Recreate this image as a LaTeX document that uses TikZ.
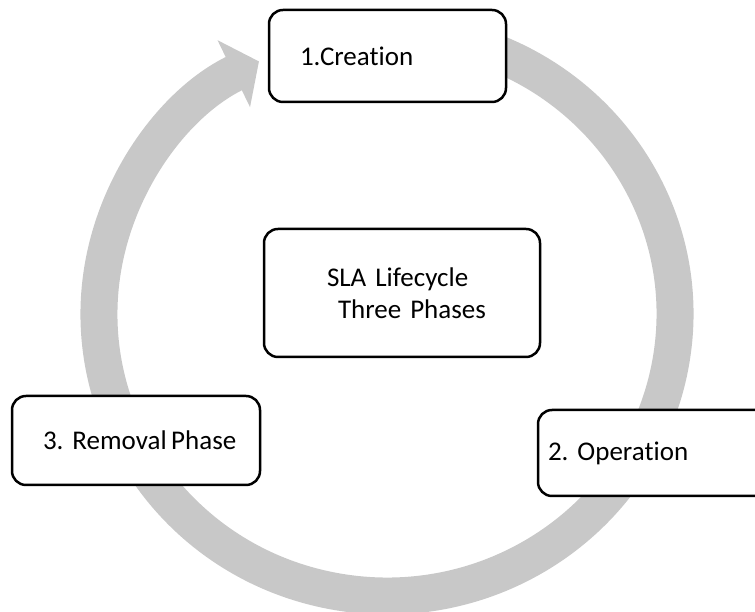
\documentclass[tikz,border=0pt]{standalone}
\usepackage{fontspec}
\setmainfont{Carlito}[Ligatures=NoCommon, WordSpace=0.6]
\usepackage{xcolor}
\usepackage{tikz}
\usetikzlibrary{arrows.meta, positioning}
\definecolor{cyclegray}{RGB}{200,200,200}
\frenchspacing

\begin{document}
\begin{tikzpicture}[x=1pt, y=1pt,
    % Styles
    phase/.style={
        rectangle,
        rounded corners=14pt,
        draw=black,
        fill=white,
        line width=2.5pt,
        align=left,
        font=\fontsize{27pt}{32pt}\selectfont
    },
    cyclearrow/.style={
        -{Triangle[length=28pt, width=73pt]},
        line width=37pt,
        draw=cyclegray
    }
]
\useasboundingbox (0,0) rectangle (755,612);

% Cycle arrow
\coordinate (hub) at (387,298);
\draw[cyclearrow] ([shift={(80:288pt and 282pt)}]hub)
    arc[start angle=80, end angle=-243.6, x radius=288pt, y radius=282pt];

% Three phases
\node[phase, minimum width=237pt, minimum height=92pt,
    text width=175pt, inner xsep=31pt] (creation) at (387.5,556) {\mbox{1.Creation}};

\node[phase, minimum width=240pt, minimum height=86pt,
    text width=220pt, inner xsep=10pt] (operation) at (658,159) {\mbox{2. Operation}};

\node[phase, minimum width=248pt, minimum height=89pt,
    text width=186pt, inner xsep=31pt] (removal) at (136,171.5) {\mbox{3. Removal\,Phase}};

% Centre node
\node[phase, minimum width=276pt, minimum height=128pt,
    text width=150pt, inner xsep=63pt] (lifecycle) at (402,319) {
    \mbox{SLA Lifecycle}\\
    \mbox{\hspace*{11pt}Three Phases}
};

\end{tikzpicture}
\end{document}
